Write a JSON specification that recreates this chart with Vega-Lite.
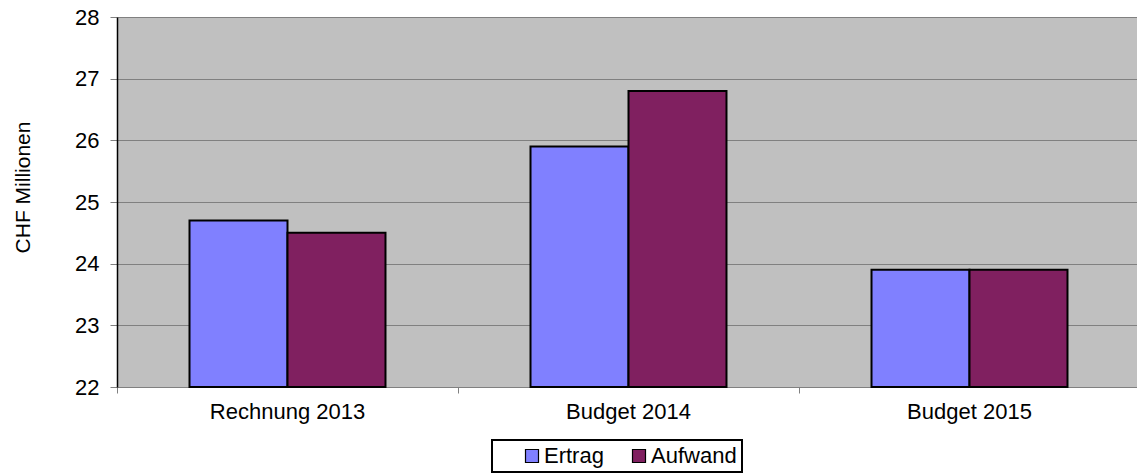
{
  "$schema": "https://vega.github.io/schema/vega-lite/v6.json",
  "autosize": "none",
  "width": 1023,
  "height": 370,
  "padding": {"left": 117, "top": 17, "right": 0, "bottom": 86},
  "background": "white",
  "config": {
    "font": "Liberation Sans",
    "view": {"fill": "#C0C0C0", "stroke": null},
    "legend": {"strokeWidth": 2}
  },
  "data": {
    "values": [
      {"Kategorie": "Rechnung 2013", "Serie": "Ertrag", "Wert": 24.7},
      {"Kategorie": "Rechnung 2013", "Serie": "Aufwand", "Wert": 24.5},
      {"Kategorie": "Budget 2014", "Serie": "Ertrag", "Wert": 25.9},
      {"Kategorie": "Budget 2014", "Serie": "Aufwand", "Wert": 26.8},
      {"Kategorie": "Budget 2015", "Serie": "Ertrag", "Wert": 23.9},
      {"Kategorie": "Budget 2015", "Serie": "Aufwand", "Wert": 23.9}
    ]
  },
  "mark": {"type": "bar", "stroke": "black", "strokeWidth": 2},
  "encoding": {
    "x": {
      "field": "Kategorie",
      "type": "nominal",
      "sort": ["Rechnung 2013", "Budget 2014", "Budget 2015"],
      "scale": {"paddingInner": 0, "paddingOuter": 0},
      "axis": {
        "title": null,
        "labelAngle": 0,
        "bandPosition": 0,
        "labelFontSize": 22,
        "labelColor": "black",
        "labelPadding": 8,
        "tickSize": 6,
        "tickColor": "#808080",
        "domainColor": "#808080",
        "domainWidth": 1,
        "grid": false
      }
    },
    "xOffset": {
      "field": "Serie",
      "type": "nominal",
      "sort": ["Ertrag", "Aufwand"],
      "scale": {"paddingInner": 0, "paddingOuter": 0.74}
    },
    "y": {
      "field": "Wert",
      "type": "quantitative",
      "scale": {"domain": [22, 28], "zero": false, "nice": false},
      "axis": {
        "title": "CHF Millionen",
        "titleFontSize": 21,
        "titleFontWeight": "normal",
        "titleColor": "black",
        "titleAngle": -90,
        "titleX": -94,
        "titleY": 170,
        "titleAlign": "center",
        "titleBaseline": "middle",
        "values": [22, 23, 24, 25, 26, 27, 28],
        "labelFontSize": 22,
        "labelColor": "black",
        "labelPadding": 11,
        "tickSize": 7,
        "tickColor": "#808080",
        "domainColor": "black",
        "domainWidth": 1.5,
        "gridColor": "#808080",
        "gridWidth": 1.2,
        "gridOpacity": 1
      }
    },
    "y2": {"datum": 22},
    "fill": {
      "field": "Serie",
      "type": "nominal",
      "sort": ["Ertrag", "Aufwand"],
      "scale": {"domain": ["Ertrag", "Aufwand"], "range": ["#8080FF", "#802060"]},
      "legend": {
        "title": null,
        "orient": "none",
        "direction": "horizontal",
        "legendX": 375,
        "legendY": 423,
        "padding": 5,
        "strokeColor": "black",
        "fillColor": "white",
        "symbolType": "square",
        "symbolSize": 169,
        "symbolStrokeColor": "black",
        "symbolStrokeWidth": 1.2,
        "symbolOffset": 24,
        "labelOffset": 1,
        "columnPadding": 0,
        "labelFontSize": 22,
        "labelColor": "black"
      }
    }
  }
}
